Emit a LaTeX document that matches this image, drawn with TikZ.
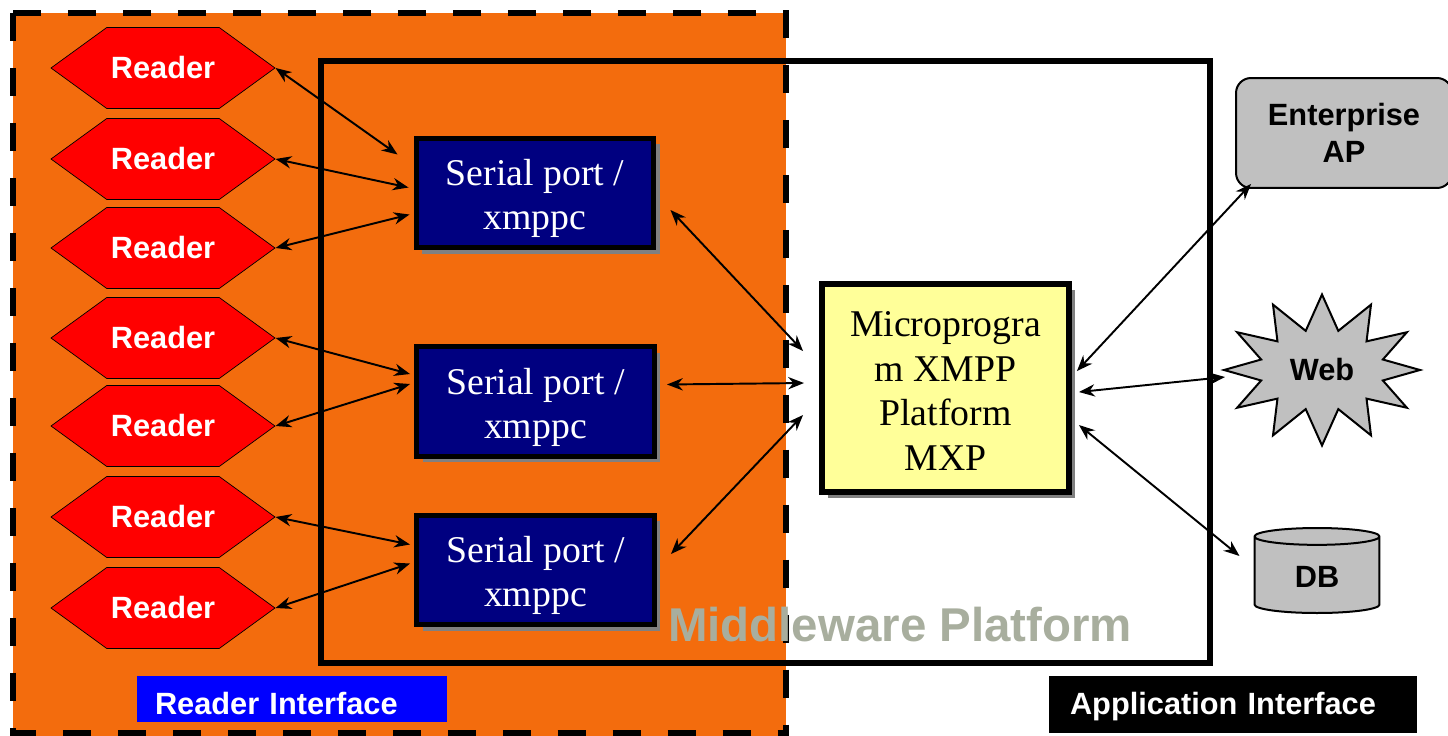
\documentclass[tikz,border=0pt]{standalone}
\usepackage{fontspec}
\setmainfont{Liberation Serif}
\setsansfont{Liberation Sans}
\usetikzlibrary{shapes.symbols,shapes.geometric,arrows.meta,shadows}

\definecolor{zoneorange}{RGB}{243,108,13}
\definecolor{portblue}{RGB}{0,0,128}
\definecolor{mxpyellow}{RGB}{255,255,153}
\definecolor{appgray}{RGB}{192,192,192}
\definecolor{labelgray}{RGB}{168,174,158}
\definecolor{ifblue}{RGB}{0,0,255}

% lower a label inside its node without changing the node size
\newcommand{\lowertext}[2]{\raisebox{-#1}[\height][\depth]{#2}}

\begin{document}
\begin{tikzpicture}[x=0.02cm, y=-0.02cm,
    boldsans/.style={font=\sffamily\bfseries\fontsize{17.5}{21}\selectfont},
    reader/.style={signal, signal to=east and west, signal pointer angle=72, draw=black, thin, fill=red,
        minimum width=4.48cm, minimum height=1.62cm, inner sep=0pt, boldsans, text=white},
    boxshadow/.style={drop shadow={shadow xshift=0.12cm, shadow yshift=-0.12cm, fill=gray, opacity=1}},
    port/.style={rectangle, draw=black, line width=0.1cm, fill=portblue, minimum width=4.76cm, minimum height=2.2cm,
        text=white, font=\fontsize{21.5}{25}\selectfont, boxshadow},
    appnode/.style={draw=black, line width=0.04cm, fill=appgray, boldsans, align=center},
    ifbox/.style={rectangle, inner xsep=0.36cm, inner ysep=0pt, minimum height=0.92cm, align=left, boldsans, text=white},
    link/.style={{Stealth[length=9pt,width=7pt]}-{Stealth[length=9pt,width=7pt]}, line width=1.1pt}
    ]
            \useasboundingbox (0,0) rectangle (1448,736);

            % reader side zone and middleware frame
            \fill[zoneorange] (13,13) rectangle (786,736);
            \draw[line width=0.12cm] (321,61) rectangle (1210,663);
            \draw[line width=0.12cm, dash pattern=on 0.56cm off 0.54cm] (13,13) -- (786,13) -- (786,736);
            \draw[line width=0.12cm, dash pattern=on 0.56cm off 0.54cm] (13,13) -- (13,733) -- (786,733);
            \node[text=labelgray, font=\sffamily\bfseries\fontsize{27}{31}\selectfont] (mwlabel) at (900,625) {Middleware Platform};

            % readers
            \node[reader] (reader1) at (163,68) {Reader};
            \node[reader] (reader2) at (163,159) {Reader};
            \node[reader] (reader3) at (163,248) {Reader};
            \node[reader] (reader4) at (163,338) {Reader};
            \node[reader] (reader5) at (163,426) {Reader};
            \node[reader] (reader6) at (163,517) {Reader};
            \node[reader] (reader7) at (163,608) {Reader};

            % serial ports and the platform
            \node[port] (port1) at (535,193) {\lowertext{0.11cm}{\parbox{4.5cm}{\centering Serial port /\\xmppc}}};
            \node[port] (port2) at (535.5,401.5) {\lowertext{0.11cm}{\parbox{4.5cm}{\centering Serial port /\\xmppc}}};
            \node[port] (port3) at (535.5,570) {\lowertext{0.11cm}{\parbox{4.5cm}{\centering Serial port /\\xmppc}}};
            \node[rectangle, draw=black, line width=0.12cm, fill=mxpyellow, minimum width=4.94cm, minimum height=4.16cm,
                font=\fontsize{21.5}{25.5}\selectfont, boxshadow] (mxp) at (945.5,388)
                {\lowertext{0.06cm}{\parbox{4.5cm}{\centering Microprogra\\m XMPP\\Platform\\MXP}}};

            % applications
            \node[appnode, rectangle, rounded corners=0.3cm, minimum width=4.32cm, minimum height=2.2cm] (entap) at (1344,133) {Enterprise\\AP};
            \node[appnode, starburst, starburst points=12, starburst point height=0.7cm, random starburst=0,
                minimum width=3.92cm, minimum height=3.02cm, inner sep=0pt] (web) at (1322,370) {Web};
            \node[appnode, cylinder, shape border rotate=90, aspect=0.3, minimum width=2.5cm, minimum height=1.7cm,
                cylinder uses custom fill, cylinder body fill=appgray, cylinder end fill=appgray!60] (db) at (1317,577) {DB};

            % interface labels
            \node[ifbox, fill=ifblue, text width=5.48cm] (readerif) at (292,699) {\lowertext{0.1cm}{Reader Interface}};
            \node[ifbox, fill=black, inner xsep=0.42cm, text width=6.52cm, minimum height=1.14cm] (appif) at (1233,704.5) {\lowertext{0.05cm}{Application Interface}};

            % reader links
            \draw[link] (reader1.east) -- ([shift={(-16,19)}]port1.north west);
            \draw[link] (reader2.east) -- ([shift={(-5,52)}]port1.north west);
            \draw[link] (reader3.east) -- ([shift={(-4,79)}]port1.north west);
            \draw[link] (reader4.east) -- ([shift={(-4,30)}]port2.north west);
            \draw[link] (reader5.east) -- ([shift={(-4,40)}]port2.north west);
            \draw[link] (reader6.east) -- ([shift={(-4,32)}]port3.north west);
            \draw[link] (reader7.east) -- ([shift={(-4,51)}]port3.north west);

            % port to platform links
            \draw[link] ([shift={(14,17)}]port1.east) -- ([shift={(-16,70)}]mxp.north west);
            \draw[link] ([shift={(10,-17)}]port2.east) -- ([shift={(-15,102)}]mxp.north west);
            \draw[link] ([shift={(14,-16)}]port3.east) -- ([shift={(-16,134)}]mxp.north west);

            % platform to applications
            \draw[link] ([shift={(5,90)}]mxp.north east) -- ([shift={(16,-5)}]entap.south west);
            \draw[link] ([shift={(7,111)}]mxp.north east) -- ([shift={(-97,7)}]web.center);
            \draw[link] ([shift={(7,144)}]mxp.north east) -- ([shift={(-14,-21)}]db.west);
\end{tikzpicture}
\end{document}
